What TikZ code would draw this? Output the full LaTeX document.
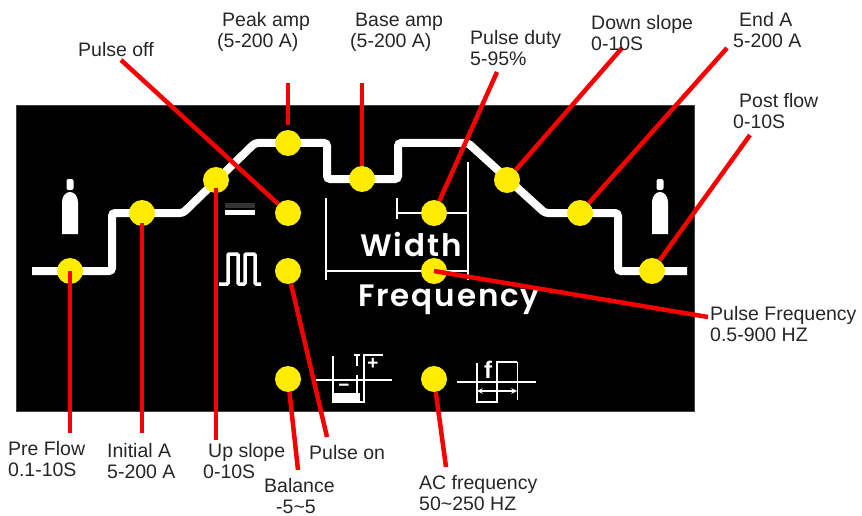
\documentclass[tikz,border=0pt]{standalone}
\usepackage{fontspec}
\setmainfont{Liberation Sans}
\newfontfamily\panelfont[LetterSpace=6]{Poppins SemiBold}
\definecolor{dotyellow}{HTML}{FFEC00}
\definecolor{leadred}{HTML}{F60000}
\tikzset{
  dot/.style={circle,fill=dotyellow,inner sep=0pt,minimum size=26pt},
  lead/.style={draw=leadred,line width=4.5pt},
  wave/.style={draw=white,line width=8pt,rounded corners=3pt},
  mark line/.style={draw=white,line width=2.5pt},
  tag/.style={anchor=west,align=left,font=\fontsize{19.5}{21}\selectfont,inner sep=0pt,text=black!85},
  paneltext/.style={anchor=west,inner sep=0pt,text=white,font=\panelfont\fontsize{31}{31}\selectfont},
  signtext/.style={inner sep=0pt,text=white,font=\bfseries\fontsize{19}{19}\selectfont}
}
\begin{document}
\begin{tikzpicture}[x=1pt,y=-1pt]
\useasboundingbox (0,0) rectangle (862,516);
\fill[black,draw=black!75,line width=1pt] (16,106) rectangle (694,411);

% welding curve
\draw[wave] (32,271) -- (112,271) -- (112,213) -- (183,213) -- (255,143) -- (327,143) -- (327,179)
  -- (398,179) -- (398,143) -- (468,143) -- (545,213) -- (618,213) -- (618,271) -- (687,271);

% gas bottles
\foreach \x in {70,660}{
  \fill[white,rounded corners=2pt] (\x-3.5,190) -- (\x-3.5,179) -- (\x+3.5,179) -- (\x+3.5,190) -- cycle;
  \fill[white] (\x-8,234) -- (\x-8,202) .. controls (\x-8,196) and (\x-4,192) .. (\x,192)
    .. controls (\x+4,192) and (\x+8,196) .. (\x+8,202) -- (\x+8,234) -- cycle;
}

% dc and pulse marks
\fill[black!80] (225,203) rectangle (255,208);
\fill[white] (225,210) rectangle (255,215);
\draw[mark line,line width=3.5pt,rounded corners=1pt] (219,284) -- (228,284) -- (228,254) -- (238,254) -- (238,284)
  -- (245,284) -- (245,254) -- (255,254) -- (255,284) -- (261,284);

% width and frequency frame
\draw[mark line] (326,198) -- (326,280) (326,271) -- (468,271) (468,162) -- (468,280)
  (397,198) -- (397,219) (397,213) -- (468,213);
\node[paneltext] (width) at (360,244) {Width};
\node[paneltext] (frequency) at (358,300) {Frequency};

% balance mark
\draw[mark line] (315,380) -- (392,380) (333,356) -- (333,402) -- (364,402) -- (364,355) -- (383,355);
\fill[white] (333,393) rectangle (360,402);
\draw[white,line width=1.5pt] (354,355) -- (360,355) (357,355) -- (357,366) (357,375) -- (357,393);
\node[signtext] (plus) at (373,364) {+};
\node[signtext] (minus) at (344,388) {−};

% ac frequency mark
\draw[mark line] (457,382) -- (536,382) (477,363) -- (477,402) -- (497,402) -- (497,362) -- (517,362);
\draw[white,line width=1pt] (517,362) -- (517,400);
\draw[white,line width=1.5pt,<->,>=stealth] (477,391) -- (517,391);
\node[signtext,font=\bfseries\fontsize{24}{24}\selectfont] (fmark) at (488,370) {f};

% yellow dots
\foreach \name/\x/\y in {preflow/70/271,initial/142/213,upslope/216/180,peak/288/143,base/362/179,
  pulseoff/288/213,pulseon/288/271,duty/434/213,pulsefreq/434/271,downslope/507/180,
  enda/580/213,postflow/652/271,balance/288/379,acfreq/434/379}{
  \node[dot] (\name) at (\x,\y) {};
}

% free ends of the red leads
\foreach \name/\x/\y in {preflowend/70/433,initialend/142/433,upslopeend/216/440,peakend/288/83,baseend/362/83,
  pulseoffend/121/60,pulseonend/327/437,dutyend/497/72,pulsefreqend/708/317,downslopeend/622/48,
  endaend/727/48,postflowend/750/135,balanceend/298/470,acfreqend/446/467}{
  \coordinate (\name) at (\x,\y);
}

\draw[lead] (preflowend) -- (preflow.center);
\draw[lead,shorten >=10pt] (initialend) -- (initial.center);
\draw[lead,shorten >=8pt] (upslopeend) -- (upslope.center);
\draw[lead,shorten >=5pt] (peakend) -- (peak);
\draw[lead] (baseend) -- (base);
\draw[lead] (pulseoffend) -- (pulseoff);
\draw[lead] (pulseonend) -- (pulseon);
\draw[lead] (dutyend) -- (duty);
\draw[lead] (pulsefreqend) -- (pulsefreq.center);
\draw[lead] (downslopeend) -- (downslope);
\draw[lead] (endaend) -- (enda);
\draw[lead] (postflowend) -- (postflow);
\draw[lead] (balanceend) -- (balance);
\draw[lead] (acfreqend) -- (acfreq);

% labels
\node[tag] (peaklabel) at (217,32) {\hspace*{5pt}Peak amp\\(5-200 A)};
\node[tag] (baselabel) at (350,32) {\hspace*{5pt}Base amp\\(5-200 A)};
\node[tag] (pulseofflabel) at (78,50) {Pulse off};
\node[tag] (dutylabel) at (470,48) {Pulse duty\\5-95\%};
\node[tag] (downlabel) at (591,33) {Down slope\\0-10S};
\node[tag] (endlabel) at (733,30) {\hspace*{6pt}End A\\5-200 A};
\node[tag] (postlabel) at (733,111) {\hspace*{6pt}Post flow\\0-10S};
\node[tag] (freqlabel) at (710,324) {Pulse Frequency\\0.5-900 HZ};
\node[tag] (prelabel) at (8,459) {Pre Flow\\0.1-10S};
\node[tag] (initiallabel) at (107,461) {Initial A\\5-200 A};
\node[tag] (uplabel) at (203,461) {\hspace*{5pt}Up slope\\0-10S};
\node[tag] (pulseonlabel) at (309,453) {Pulse on};
\node[tag] (balancelabel) at (264,496) {Balance\\\hspace*{12pt}-5\textasciitilde5};
\node[tag] (aclabel) at (419,493) {AC frequency\\50\textasciitilde250 HZ};
\end{tikzpicture}
\end{document}
